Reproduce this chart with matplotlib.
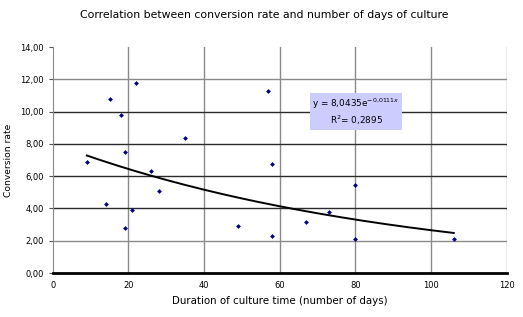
import numpy as np
import matplotlib
matplotlib.use("Agg")
import matplotlib.pyplot as plt
from matplotlib.ticker import FuncFormatter

days = [9, 15, 22, 18, 19, 35, 26, 28, 14, 21, 19, 49, 57, 58, 58, 67, 73, 80, 80, 106]
rate = [6.87, 10.75, 11.8, 9.8, 7.5, 8.35, 6.3, 5.1, 4.3, 3.9, 2.8, 2.9, 11.25, 6.75, 2.27, 3.15, 3.75, 5.45, 2.1, 2.1]
fit_a = 8.0435
fit_b = -0.0111
r2 = 0.2895

W, H = 523, 317
fig = plt.figure(figsize=(W / 100, H / 100), dpi=100)
x0, x1 = 52.8, 506.7
y0, y1 = 47, 273
ax = fig.add_axes([x0 / W, 1 - y1 / H, (x1 - x0) / W, (y1 - y0) / H])

ax.set_xlim(0, 120)
ax.set_ylim(0, 14)
ax.set_xticks(np.arange(0, 121, 20))
ax.set_yticks(np.arange(0, 14.01, 2))

for v in np.arange(20, 121, 20):
    ax.axvline(v, color="#8a8a8a", lw=1.0, zorder=1)
for v in np.arange(2, 13, 2):
    ax.axhline(v, color="#2a2a2a" if v in (4, 6, 8, 10) else "#8a8a8a", lw=1.0, zorder=1)

for s in ["top", "right"]:
    ax.spines[s].set_visible(False)
ax.spines["left"].set_color("#8a8a8a")
ax.spines["bottom"].set_color("black")
ax.spines["bottom"].set_linewidth(2)

ax.scatter(days, rate, marker="D", s=6, color="#000080", zorder=3, linewidths=0)

xs = np.linspace(min(days), max(days), 200)
ax.plot(xs, fit_a * np.exp(fit_b * xs), color="black", lw=1.4, zorder=2)

fmt_y = FuncFormatter(lambda v, p: f"{v:.2f}".replace(".", ","))
ax.yaxis.set_major_formatter(fmt_y)
ax.tick_params(axis="both", labelsize=6, length=3, color="#555555", direction="out")
ax.tick_params(axis="x", length=0, pad=6)

ax.set_xlabel("Duration of culture time (number of days)", fontsize=7.4, labelpad=4)
ax.set_ylabel("Conversion rate", fontsize=6.6)
ax.yaxis.set_label_coords((13 - x0) / (x1 - x0), (273 - 160) / (y1 - y0))

fig.text(264.5 / W, 1 - 14.5 / H, "Correlation between conversion rate and number of days of culture",
         ha="center", va="center", fontsize=7.8)

eq = (f"y = {fit_a:.4f}".replace(".", ",") + "e$^{" + f"{fit_b:.4f}".replace(".", "{,}") + "x}$\n"
      + "R$^2$= " + f"{r2:.4f}".replace(".", ","))
ax.text((356 - x0) / (x1 - x0), 1 - (112 - y0) / (y1 - y0), eq, transform=ax.transAxes,
        ha="center", va="center", fontsize=6.4, multialignment="center", zorder=4,
        bbox=dict(boxstyle="square,pad=0.3", facecolor="#ccccff", edgecolor="none"))

fig.savefig("out.png", dpi=100)
